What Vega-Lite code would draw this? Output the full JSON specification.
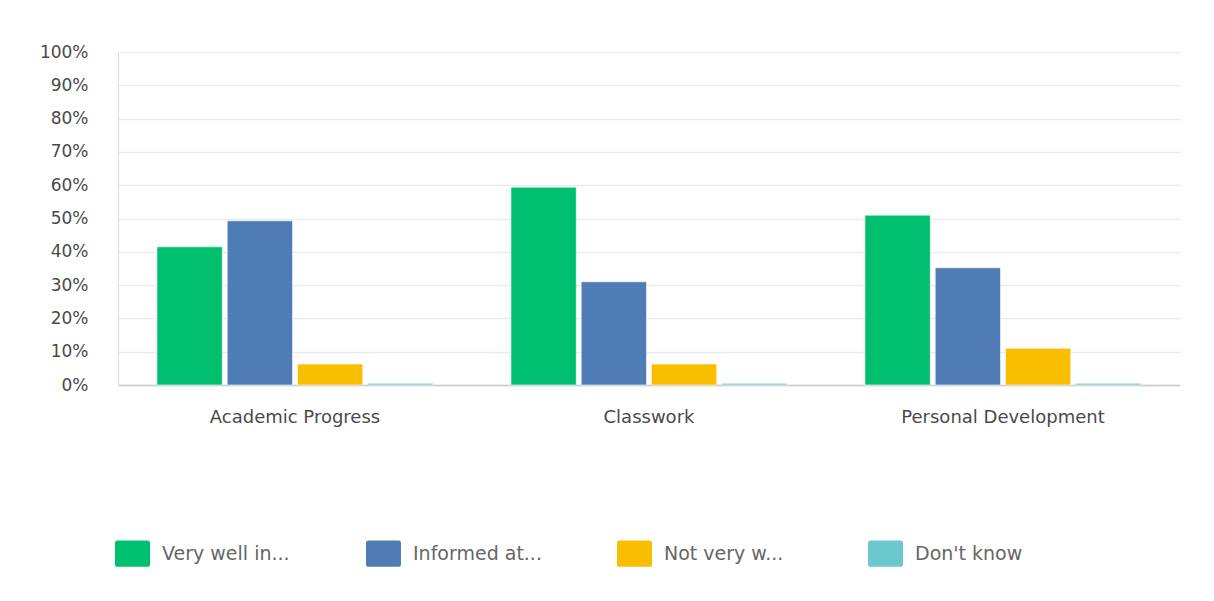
{
  "$schema": "https://vega.github.io/schema/vega-lite/v6.json",
  "autosize": {"type": "none"},
  "width": 1062,
  "height": 333,
  "padding": {"left": 118, "top": 52, "right": 34, "bottom": 216},
  "background": "white",
  "data": {
    "values": [
      {"category": "Academic Progress", "answer": "Very well in...", "order": 1, "value": 0.415},
      {"category": "Academic Progress", "answer": "Informed at...", "order": 2, "value": 0.493},
      {"category": "Academic Progress", "answer": "Not very w...", "order": 3, "value": 0.063},
      {"category": "Academic Progress", "answer": "Don't know", "order": 4, "value": 0.005},
      {"category": "Classwork", "answer": "Very well in...", "order": 1, "value": 0.594},
      {"category": "Classwork", "answer": "Informed at...", "order": 2, "value": 0.31},
      {"category": "Classwork", "answer": "Not very w...", "order": 3, "value": 0.063},
      {"category": "Classwork", "answer": "Don't know", "order": 4, "value": 0.005},
      {"category": "Personal Development", "answer": "Very well in...", "order": 1, "value": 0.51},
      {"category": "Personal Development", "answer": "Informed at...", "order": 2, "value": 0.352},
      {"category": "Personal Development", "answer": "Not very w...", "order": 3, "value": 0.11},
      {"category": "Personal Development", "answer": "Don't know", "order": 4, "value": 0.005}
    ]
  },
  "mark": {"type": "bar", "stroke": "white", "strokeWidth": 1, "strokeOpacity": 0.6},
  "encoding": {
    "x": {
      "field": "category",
      "type": "nominal",
      "sort": ["Academic Progress", "Classwork", "Personal Development"],
      "scale": {"paddingInner": 0.22, "paddingOuter": 0.11},
      "axis": {
        "title": null,
        "labelAngle": 0,
        "labelFont": "DejaVu Sans",
        "labelFontSize": 18,
        "labelColor": "#4a4a4a",
        "labelPadding": 23,
        "labelLimit": 400,
        "ticks": false,
        "domainColor": "#cccccc",
        "domainWidth": 1.5
      }
    },
    "xOffset": {
      "field": "answer",
      "type": "nominal",
      "sort": ["Very well in...", "Informed at...", "Not very w...", "Don't know"],
      "scale": {"paddingInner": 0.07, "paddingOuter": 0}
    },
    "y": {
      "field": "value",
      "type": "quantitative",
      "scale": {"domain": [0, 1], "nice": false},
      "axis": {
        "title": null,
        "format": ".0%",
        "values": [0, 0.1, 0.2, 0.3, 0.4, 0.5, 0.6, 0.7, 0.8, 0.9, 1],
        "labelFont": "DejaVu Sans",
        "labelFontSize": 17,
        "labelColor": "#4a4a4a",
        "labelPadding": 30,
        "ticks": false,
        "domainColor": "#dddddd",
        "gridColor": "#ebebeb",
        "gridWidth": 1.5
      }
    },
    "color": {
      "field": "answer",
      "type": "nominal",
      "sort": ["Very well in...", "Informed at...", "Not very w...", "Don't know"],
      "scale": {
        "domain": ["Very well in...", "Informed at...", "Not very w...", "Don't know"],
        "range": ["#00BF6F", "#507CB6", "#F9BE00", "#6BC8CD"]
      },
      "legend": {
        "title": null,
        "orient": "none",
        "legendX": -3,
        "legendY": 484,
        "direction": "horizontal",
        "columns": 4,
        "gridAlign": "all",
        "columnPadding": 75,
        "symbolType": "M-0.85,-0.75 H0.85 Q1,-0.75 1,-0.6 V0.6 Q1,0.75 0.85,0.75 H-0.85 Q-1,0.75 -1,0.6 V-0.6 Q-1,-0.75 -0.85,-0.75 Z",
        "symbolSize": 1225,
        "symbolStrokeWidth": 0,
        "symbolOpacity": 1,
        "labelFont": "DejaVu Sans",
        "labelFontSize": 19,
        "labelColor": "#666666",
        "labelOffset": 12,
        "labelLimit": 300
      }
    }
  },
  "config": {
    "view": {"stroke": null}
  }
}
